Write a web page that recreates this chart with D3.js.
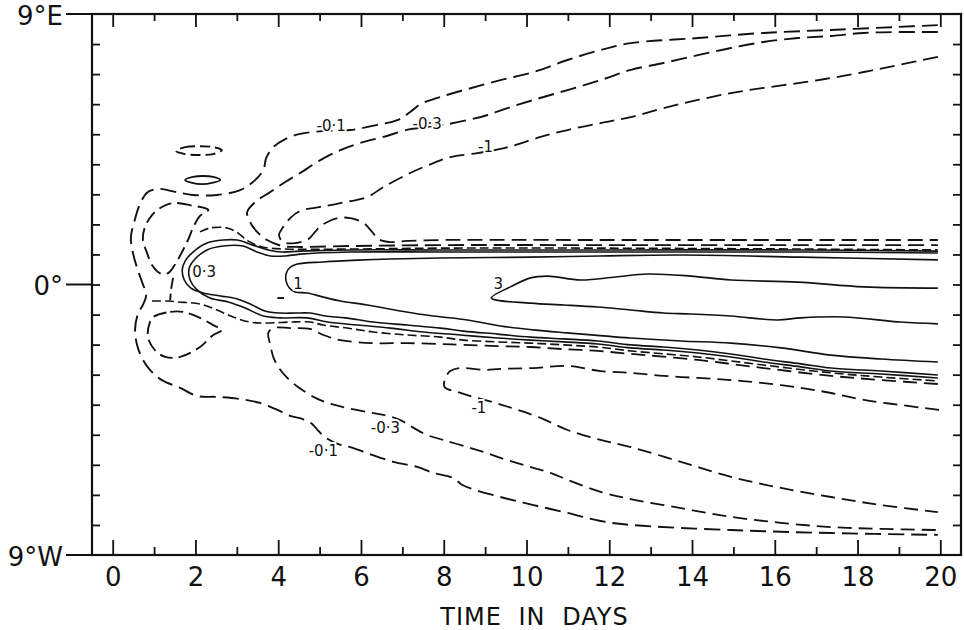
<!DOCTYPE html>
<html>
<head>
<meta charset="utf-8">
<script src="https://cdn.jsdelivr.net/npm/d3@7"></script>
<style>
  body { margin: 0; background: #fff; }
  svg { display: block; }
  text { font-family: "DejaVu Sans", "Liberation Sans", sans-serif; fill: #111; }
</style>
</head>
<body>
<div id="chart"></div>
<script>
// axes: time in days, latitude in degrees (+ = north / E label)
const dayTicks = d3.range(0, 21);
const dayLabels = [0, 2, 4, 6, 8, 10, 12, 14, 16, 18, 20];
const latTicks = d3.range(-8, 9);
const latLabelValues = [9, 0, -9];
const latLabelTexts = ["9°E", "0°", "9°W"];

// contour lines as [day, latitude]
const neg01 = [[19.94,8.63],[18.98,8.57],[17.36,8.47],[15.73,8.37],[14.14,8.20],[12.52,8.03],[11.79,7.80],[10.99,7.47],[10.17,7.07],[9.37,6.80],[8.57,6.50],[7.92,6.24],[7.44,6.00],[7.19,5.74],[6.88,5.47],[6.39,5.31],[5.74,5.14],[5.14,5.11],[4.53,5.01],[4.17,4.84],[3.88,4.57],[3.71,4.21],[3.64,3.81],[3.39,3.41],[3.08,3.14],[2.52,2.98],[1.94,2.98],[1.51,3.08],[1.14,3.18],[0.85,3.08],[0.66,2.68],[0.52,2.08],[0.44,1.58],[0.49,1.05],[0.59,0.55],[0.71,0.08],[0.81,-0.35],[0.73,-0.68],[0.61,-0.98],[0.54,-1.51],[0.59,-2.01],[0.71,-2.45],[0.90,-2.84],[1.19,-3.18],[1.63,-3.44],[2.04,-3.71],[2.52,-3.74],[3.08,-3.81],[3.56,-3.94],[3.93,-4.14],[4.29,-4.37],[4.58,-4.47],[4.82,-4.64],[4.97,-4.87],[5.16,-5.11],[5.45,-5.31],[5.74,-5.41],[6.15,-5.61],[6.78,-5.90],[7.36,-6.07],[7.75,-6.27],[8.23,-6.44],[8.45,-6.67],[8.77,-6.84],[9.37,-7.07],[10.17,-7.34],[10.99,-7.60],[11.79,-7.87],[12.52,-8.00],[14.94,-8.17],[17.36,-8.27],[19.94,-8.33]];
const neg03North = [[19.94,8.40],[18.98,8.40],[18.15,8.37],[17.36,8.27],[16.56,8.20],[15.73,8.07],[14.94,7.87],[14.14,7.63],[13.31,7.37],[12.52,7.14],[11.79,6.80],[10.99,6.47],[10.17,6.14],[9.54,5.87],[9.06,5.64],[8.57,5.47],[7.99,5.31],[7.60,5.24],[7.19,5.17],[6.54,4.91],[5.98,4.71],[5.50,4.47],[5.02,4.14],[4.53,3.71],[4.17,3.41],[3.81,3.08],[3.44,2.74],[3.25,2.41],[3.32,2.08],[3.49,1.75],[3.73,1.48],[4.10,1.28],[4.53,1.25],[5.74,1.28],[7.92,1.31],[11.79,1.31],[16.63,1.31],[19.94,1.31]];
const neg1North = [[19.94,7.57],[18.98,7.30],[18.15,7.07],[17.36,6.87],[16.56,6.70],[15.73,6.54],[14.94,6.37],[14.14,6.14],[13.31,5.87],[12.52,5.57],[11.79,5.37],[10.99,5.14],[10.34,4.91],[9.73,4.64],[9.37,4.51],[8.81,4.37],[8.16,4.24],[7.75,4.04],[7.19,3.71],[6.54,3.24],[6.15,2.91],[5.50,2.71],[5.02,2.58],[4.53,2.45],[4.29,2.21],[4.12,1.91],[4.02,1.65],[4.12,1.41],[4.41,1.38],[4.73,1.51],[4.89,1.75],[5.09,2.01],[5.43,2.21],[5.74,2.21],[6.06,2.05],[6.27,1.75],[6.42,1.51],[6.71,1.41],[7.12,1.45],[7.92,1.48],[11.79,1.48],[16.63,1.48],[19.94,1.48]];
const frontNorth = [[2.11,1.75],[2.35,1.88],[2.77,1.88],[3.03,1.71],[3.27,1.45],[3.61,1.25],[4.17,1.18],[5.74,1.18],[7.92,1.21],[11.79,1.21],[16.63,1.18],[19.94,1.15]];
const pos01 = [[19.94,1.11],[16.63,1.15],[11.79,1.15],[7.92,1.15],[5.74,1.15],[4.53,1.11],[4.10,1.08],[3.76,1.15],[3.39,1.31],[3.01,1.48],[2.67,1.48],[2.28,1.38],[1.94,1.08],[1.75,0.78],[1.68,0.48],[1.73,0.15],[1.89,-0.12],[2.18,-0.28],[2.60,-0.38],[3.01,-0.48],[3.37,-0.68],[3.68,-0.88],[4.05,-0.95],[4.41,-0.95],[4.77,-0.95],[5.14,-1.05],[5.62,-1.11],[6.30,-1.25],[7.12,-1.35],[7.92,-1.45],[8.48,-1.55],[9.30,-1.65],[10.10,-1.75],[10.90,-1.81],[11.72,-1.88],[12.52,-2.01],[13.31,-2.08],[14.14,-2.18],[14.94,-2.31],[15.73,-2.48],[16.63,-2.64],[17.36,-2.78],[18.57,-2.88],[19.94,-3.01]];
const pos03 = [[19.94,1.05],[16.63,1.08],[11.79,1.08],[7.92,1.08],[5.74,1.08],[4.53,1.01],[4.17,0.95],[3.81,0.95],[3.49,1.08],[3.15,1.28],[2.67,1.28],[2.28,1.15],[1.99,0.85],[1.85,0.55],[1.87,0.15],[2.04,-0.18],[2.35,-0.45],[2.79,-0.58],[3.20,-0.78],[3.64,-1.05],[4.05,-1.11],[4.70,-1.11],[5.19,-1.25],[5.91,-1.35],[6.71,-1.45],[7.51,-1.58],[8.40,-1.68],[9.30,-1.78],[10.10,-1.85],[10.90,-1.91],[11.72,-1.98],[12.52,-2.11],[13.31,-2.18],[14.14,-2.28],[14.94,-2.41],[15.73,-2.58],[16.63,-2.74],[17.36,-2.88],[18.57,-2.98],[19.94,-3.11]];
const pos1 = [[19.94,0.82],[16.63,0.91],[13.73,0.98],[11.79,0.95],[10.10,0.91],[7.92,0.88],[6.71,0.85],[5.91,0.81],[5.09,0.75],[4.46,0.68],[4.27,0.55],[4.19,0.35],[4.19,0.12],[4.27,-0.12],[4.41,-0.25],[4.70,-0.28],[5.09,-0.42],[5.50,-0.55],[6.15,-0.68],[6.95,-0.88],[7.75,-1.05],[8.57,-1.18],[9.37,-1.38],[10.17,-1.51],[10.99,-1.61],[12.52,-1.78],[13.73,-1.88],[14.94,-1.95],[16.15,-2.11],[17.36,-2.35],[18.57,-2.48],[19.94,-2.58]];
const pos3 = [[19.94,-0.12],[18.15,-0.08],[16.56,0.08],[14.94,0.15],[13.97,0.28],[12.93,0.35],[12.15,0.25],[11.31,0.15],[10.51,0.28],[10.10,0.22],[9.61,-0.08],[9.15,-0.45],[10.10,-0.62],[10.90,-0.68],[11.72,-0.75],[12.52,-0.85],[13.31,-0.95],[13.97,-0.98],[14.94,-1.05],[16.07,-1.18],[16.63,-1.11],[17.67,-1.08],[19.05,-1.25],[19.94,-1.31]];
const frontSouth = [[0.95,-0.55],[1.34,-0.55],[1.58,-0.58],[2.11,-0.65],[2.52,-0.85],[2.91,-1.08],[3.32,-1.25],[3.73,-1.28],[4.29,-1.25],[4.77,-1.25],[5.09,-1.35],[5.67,-1.45],[6.30,-1.58],[7.12,-1.68],[7.92,-1.75],[8.48,-1.85],[9.30,-1.91],[10.10,-1.95],[10.90,-2.01],[11.72,-2.08],[12.52,-2.21],[14.14,-2.41],[15.73,-2.68],[17.36,-2.94],[18.57,-3.08],[19.94,-3.21]];
const neg03South = [[19.94,-3.31],[18.57,-3.18],[17.36,-3.04],[15.73,-2.78],[14.14,-2.51],[12.52,-2.31],[11.72,-2.21],[10.90,-2.15],[10.10,-2.08],[9.30,-2.05],[8.48,-2.01],[7.92,-1.98],[7.12,-1.95],[6.30,-1.95],[5.50,-1.85],[5.09,-1.68],[4.77,-1.48],[4.29,-1.45],[3.88,-1.45],[3.76,-1.61],[3.81,-2.01],[3.88,-2.41],[4.00,-2.74],[4.22,-3.11],[4.48,-3.41],[4.85,-3.74],[5.19,-3.94],[5.57,-4.08],[6.15,-4.24],[6.54,-4.34],[6.95,-4.51],[7.27,-4.77],[7.60,-5.01],[7.99,-5.17],[8.57,-5.41],[8.96,-5.57],[9.37,-5.77],[9.78,-5.94],[10.17,-6.10],[10.58,-6.27],[10.99,-6.50],[11.79,-6.90],[12.52,-7.14],[13.73,-7.44],[14.94,-7.73],[16.15,-7.93],[17.36,-8.07],[18.57,-8.13],[19.94,-8.17]];
const neg1South = [[19.97,-4.17],[19.05,-4.01],[18.15,-3.84],[17.36,-3.61],[16.63,-3.44],[15.73,-3.28],[14.94,-3.18],[14.14,-3.11],[13.31,-3.04],[12.52,-2.94],[11.79,-2.88],[10.99,-2.71],[10.17,-2.78],[9.37,-2.81],[8.96,-2.84],[8.40,-2.78],[8.16,-2.88],[8.04,-3.11],[8.02,-3.41],[8.35,-3.58],[8.72,-3.74],[9.25,-3.94],[9.78,-4.17],[10.34,-4.44],[10.99,-4.84],[11.79,-5.17],[12.52,-5.41],[13.73,-5.90],[14.94,-6.40],[16.15,-6.77],[17.36,-7.07],[18.57,-7.34],[19.94,-7.57]];
const lobeNorth = [[2.31,2.48],[1.87,2.64],[1.46,2.71],[1.19,2.58],[0.95,2.31],[0.78,1.91],[0.73,1.48],[0.83,1.05],[0.95,0.65],[1.14,0.38],[1.34,0.38],[1.53,0.72],[1.70,1.15],[1.82,1.48],[1.94,1.88],[2.11,2.28]];
const lobeSouth = [[0.98,-1.08],[1.39,-0.91],[1.70,-0.91],[2.11,-1.11],[2.43,-1.35],[2.64,-1.51],[2.43,-1.68],[2.11,-2.08],[1.63,-2.41],[1.27,-2.41],[1.02,-2.18],[0.85,-1.75],[0.90,-1.25]];
const saddle = [[1.46,0.22],[1.41,-0.18],[1.39,-0.52]];
const cellNeg = [[1.53,4.44],[1.75,4.57],[2.09,4.60],[2.43,4.57],[2.64,4.47],[2.43,4.34],[2.09,4.31],[1.75,4.34]];
const cellPos = [[1.75,3.48],[1.94,3.58],[2.18,3.61],[2.43,3.58],[2.60,3.48],[2.40,3.38],[2.16,3.34],[1.92,3.38]];
const cellTiny = [[3.98,-0.45],[4.14,-0.45]];

// contour labels
const labelTexts = ["-0·1", "-0·3", "-1", "0·3", "1", "3", "-1", "-0·3", "-0·1"];
const labelDays = [5.28, 7.60, 9.01, 2.21, 4.48, 9.32, 8.85, 6.59, 5.09];
const labelLats = [5.11, 5.17, 4.41, 0.25, -0.15, -0.15, -4.27, -4.94, -5.71];

const width = 964, height = 630;
const plotLeft = 92, plotRight = 961, plotTop = 14, plotBottom = 555;

const svg = d3.select("#chart").append("svg")
    .attr("width", width)
    .attr("height", height);

const x = d3.scaleLinear().domain([-0.5, 20.5]).range([plotLeft, plotRight]);
const y = d3.scaleLinear().domain([-9, 9]).range([plotBottom, plotTop]);

const ink = "#111";

// contours
const line = d3.line().x(d => x(d[0])).y(d => y(d[1])).curve(d3.curveCatmullRom.alpha(0.5));
const loop = d3.line().x(d => x(d[0])).y(d => y(d[1])).curve(d3.curveCatmullRomClosed.alpha(0.5));

const contours = [
    {pts: neg01, dash: "16,7", w: 1.9},
    {pts: neg03North, dash: "16,7", w: 1.9},
    {pts: neg1North, dash: "15,7", w: 1.8},
    {pts: frontNorth, dash: "9,4", w: 1.6},
    {pts: pos01, dash: null, w: 1.6},
    {pts: pos03, dash: null, w: 1.6},
    {pts: pos1, dash: null, w: 1.6},
    {pts: pos3, dash: null, w: 1.6},
    {pts: frontSouth, dash: "9,4", w: 1.6},
    {pts: neg03South, dash: "14,7", w: 1.8},
    {pts: neg1South, dash: "14,7", w: 1.8},
    {pts: saddle, dash: "11,5", w: 1.9},
    {pts: cellTiny, dash: null, w: 1.9},
    {pts: lobeNorth, dash: "13,6", w: 1.9, closed: true},
    {pts: lobeSouth, dash: "13,6", w: 1.9, closed: true},
    {pts: cellNeg, dash: "10,5", w: 1.9, closed: true},
    {pts: cellPos, dash: null, w: 1.8, closed: true}
];

svg.append("g").selectAll("path")
    .data(contours)
    .enter()
    .append("path")
    .attr("d", d => d.closed ? loop(d.pts) : line(d.pts))
    .attr("fill", "none")
    .attr("stroke", ink)
    .attr("stroke-width", d => d.w)
    .attr("stroke-dasharray", d => d.dash);

svg.append("g").selectAll("text")
    .data(labelTexts)
    .enter()
    .append("text")
    .attr("x", (d, i) => x(labelDays[i]))
    .attr("y", (d, i) => y(labelLats[i]))
    .attr("text-anchor", "middle")
    .attr("font-size", 15)
    .attr("stroke", "#fff")
    .attr("stroke-width", 4)
    .attr("paint-order", "stroke")
    .text(d => d);

// frame
svg.append("rect")
    .attr("x", plotLeft).attr("y", plotTop)
    .attr("width", plotRight - plotLeft).attr("height", plotBottom - plotTop)
    .attr("fill", "none")
    .attr("stroke", ink)
    .attr("stroke-width", 2.2);

function style(g) {
    g.select(".domain").remove();
    g.selectAll(".tick line").attr("stroke", ink).attr("stroke-width", 1.8);
}

const major = dayTicks.filter(d => d % 2 === 0);
const minor = dayTicks.filter(d => d % 2 === 1);

svg.append("g").attr("transform", `translate(0,${plotBottom})`)
    .call(d3.axisBottom(x).tickValues(minor).tickSize(-8).tickFormat(""))
    .call(style);
svg.append("g").attr("transform", `translate(0,${plotBottom})`)
    .call(d3.axisBottom(x).tickValues(dayLabels).tickSize(-15).tickPadding(13))
    .call(style)
    .selectAll("text")
    .attr("font-size", 26)
    .attr("font-family", "\"DejaVu Sans\", sans-serif")
    .attr("fill", ink);

svg.append("g").attr("transform", `translate(0,${plotTop})`)
    .call(d3.axisTop(x).tickValues(minor).tickSize(-7).tickFormat(""))
    .call(style);
svg.append("g").attr("transform", `translate(0,${plotTop})`)
    .call(d3.axisTop(x).tickValues(major).tickSize(-13).tickFormat(""))
    .call(style);

svg.append("g").attr("transform", `translate(${plotLeft},0)`)
    .call(d3.axisLeft(y).tickValues(latTicks).tickSize(-8).tickFormat(""))
    .call(style);
svg.append("g").attr("transform", `translate(${plotRight},0)`)
    .call(d3.axisRight(y).tickValues(latTicks).tickSize(-8).tickFormat(""))
    .call(style);

// latitude labels with their leader lines
const latG = svg.append("g");
latG.selectAll("line")
    .data(latLabelValues)
    .enter()
    .append("line")
    .attr("x1", plotLeft - 26).attr("x2", plotLeft)
    .attr("y1", d => y(d)).attr("y2", d => y(d))
    .attr("stroke", ink)
    .attr("stroke-width", 2);
latG.selectAll("text")
    .data(latLabelValues)
    .enter()
    .append("text")
    .attr("x", plotLeft - 29)
    .attr("y", d => y(d))
    .attr("dy", "0.42em")
    .attr("text-anchor", "end")
    .attr("font-size", 26)
    .text((d, i) => latLabelTexts[i]);

svg.append("text")
    .attr("x", x(10) + 8)
    .attr("y", 625)
    .attr("text-anchor", "middle")
    .attr("font-size", 24)
    .attr("letter-spacing", 1)
    .attr("word-spacing", 8)
    .text("TIME IN DAYS");
</script>
</body>
</html>
